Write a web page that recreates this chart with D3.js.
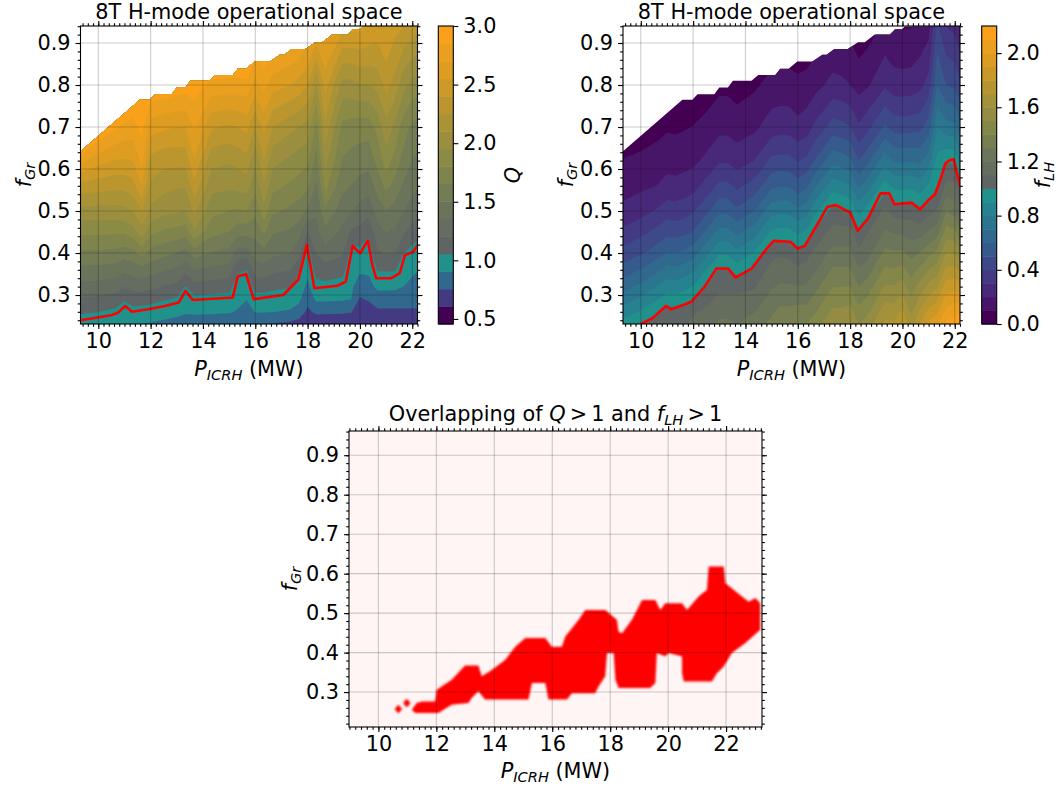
<!DOCTYPE html>
<html><head><meta charset="utf-8">
<script src="https://cdn.jsdelivr.net/npm/d3@7"></script>
<style>body{margin:0;background:#fff} text{font-family:"DejaVu Sans",sans-serif}</style>
</head><body>
<svg id="fig" width="1062" height="786"></svg>
<script>
// ---------------- data ----------------
const gridP = [9.32, 10.0, 10.67, 11.0, 11.33, 11.67, 12.0, 12.5, 13.0, 13.33, 13.67, 14.33, 15.0, 15.33, 15.67, 16.0, 16.33, 16.67, 17.33, 17.67, 18.0, 18.33, 18.67, 19.33, 19.67, 20.0, 20.33, 20.67, 21.0, 21.33, 21.67, 22.0, 22.2];
const gridF = [0.231, 0.26, 0.29, 0.32, 0.36, 0.40, 0.45, 0.50, 0.56, 0.62, 0.70, 0.80, 0.94];

// Q per P column (values at gridF rows)
const qCols = [
 [0.968,1.077,1.192,1.308,1.462,1.625,1.833,2.05,2.35,2.745,3.4,3.5,3.5],
 [0.948,1.056,1.177,1.298,1.46,1.625,1.833,2.045,2.318,2.608,3.04,3.5,3.5],
 [0.923,1.017,1.143,1.269,1.437,1.609,1.826,2.042,2.292,2.541,2.868,3.28,3.5],
 [0.912,0.968,1.072,1.207,1.387,1.575,1.825,2.06,2.30,2.535,2.81,3.16,3.5],
 [0.912,1.0,1.125,1.25,1.417,1.611,1.889,2.115,2.346,2.558,2.79,3.08,3.5],
 [0.905,0.99,1.126,1.266,1.453,1.714,2.042,2.25,2.55,2.75,2.9,3.03,3.5],
 [0.896,0.98,1.105,1.237,1.412,1.60,1.85,2.063,2.22,2.35,2.62,3.0,3.5],
 [0.876,0.96,1.069,1.198,1.371,1.545,1.773,2.0,2.15,2.3,2.58,2.98,3.5],
 [0.855,0.945,1.038,1.164,1.332,1.5,1.75,1.97,2.12,2.3,2.55,2.95,3.5],
 [0.841,0.921,0.968,1.05,1.25,1.45,1.722,1.95,2.12,2.3,2.55,2.93,3.5],
 [0.83,0.93,1.01,1.157,1.353,1.571,1.929,2.143,2.357,2.543,2.714,2.93,3.5],
 [0.826,0.925,1.0,1.136,1.318,1.5,1.7,1.85,2.0,2.15,2.42,2.8,3.4],
 [0.806,0.918,0.992,1.115,1.286,1.457,1.65,1.8,1.98,2.12,2.38,2.78,3.35],
 [0.779,0.896,0.937,0.972,1.083,1.292,1.556,1.78,2.0,2.15,2.4,2.78,3.35],
 [0.756,0.831,0.912,0.956,1.056,1.278,1.563,1.8,2.02,2.2,2.45,2.8,3.35],
 [0.775,0.918,0.997,1.112,1.267,1.422,1.55,1.7,1.85,1.98,2.25,2.65,3.1],
 [0.763,0.915,0.992,1.115,1.286,1.457,1.68,1.9,2.08,2.25,2.45,2.75,3.1],
 [0.75,0.91,0.985,1.09,1.239,1.388,1.52,1.68,1.85,2.0,2.25,2.62,3.05],
 [0.722,0.891,0.972,1.065,1.21,1.355,1.48,1.62,1.78,1.92,2.15,2.55,3.0],
 [0.691,0.853,0.935,0.977,1.093,1.256,1.42,1.58,1.74,1.88,2.1,2.5,2.95],
 [0.661,0.725,0.802,0.879,0.937,0.98,1.191,1.48,1.68,1.83,2.05,2.4,2.85],
 [0.626,0.788,0.935,1.01,1.108,1.206,1.3,1.38,1.48,1.58,1.75,2.1,2.75],
 [0.637,0.786,0.93,1.007,1.148,1.289,1.465,1.62,1.85,2.0,2.2,2.45,2.8],
 [0.636,0.779,0.923,0.989,1.106,1.227,1.32,1.42,1.55,1.64,1.76,2.05,2.6],
 [0.649,0.765,0.905,0.93,0.963,0.996,1.18,1.36,1.5,1.6,1.74,2.05,2.6],
 [0.62,0.652,0.741,0.831,0.931,1.004,1.16,1.3,1.45,1.58,1.72,2.1,2.6],
 [0.62,0.68,0.771,0.86,0.93,0.97,1.08,1.26,1.42,1.56,1.72,2.1,2.55],
 [0.639,0.728,0.834,0.937,1.063,1.188,1.3,1.42,1.56,1.7,1.85,2.15,2.5],
 [0.639,0.728,0.834,0.937,1.071,1.214,1.36,1.5,1.7,1.88,2.05,2.3,2.55],
 [0.639,0.728,0.834,0.935,1.065,1.21,1.33,1.45,1.6,1.75,1.92,2.2,2.45],
 [0.661,0.733,0.819,0.905,0.963,1.06,1.22,1.36,1.48,1.6,1.72,2.0,2.4],
 [0.688,0.739,0.802,0.864,0.936,0.997,1.15,1.28,1.4,1.5,1.62,1.9,2.35],
 [0.699,0.742,0.794,0.845,0.912,0.972,1.12,1.25,1.37,1.47,1.6,1.88,2.3]
];

// f_LH per P column (values at gridF rows)
const lhCols = [
 [0.936,0.847,0.754,0.662,0.54,0.438,0.323,0.227,0.159,0.105,0.012,0.0,0.0],
 [1.0,0.911,0.819,0.727,0.604,0.486,0.371,0.265,0.178,0.124,0.037,0.0,0.0],
 [1.08,0.991,0.899,0.807,0.684,0.561,0.431,0.316,0.204,0.148,0.068,0.0,0.0],
 [1.08,1.04,0.948,0.856,0.733,0.61,0.468,0.353,0.233,0.162,0.087,0.0,0.0],
 [1.08,1.031,0.939,0.847,0.724,0.601,0.461,0.346,0.227,0.159,0.083,0.0,0.0],
 [1.09,1.052,0.96,0.868,0.745,0.622,0.477,0.362,0.24,0.166,0.092,0.0,0.0],
 [1.12,1.089,0.997,0.905,0.782,0.659,0.506,0.39,0.262,0.177,0.104,0.0,0.0],
 [1.16,1.12,1.07,1.018,0.896,0.773,0.619,0.475,0.337,0.22,0.138,0.031,0.0],
 [1.22,1.173,1.123,1.074,1.009,0.886,0.733,0.579,0.422,0.287,0.171,0.075,0.0],
 [1.22,1.173,1.123,1.074,1.009,0.886,0.733,0.579,0.422,0.287,0.171,0.075,0.0],
 [1.2,1.16,1.12,1.074,0.951,0.828,0.675,0.521,0.378,0.253,0.154,0.052,0.0],
 [1.25,1.195,1.14,1.09,1.031,0.908,0.754,0.601,0.438,0.30,0.177,0.083,0.0],
 [1.33,1.28,1.235,1.19,1.13,1.071,0.917,0.764,0.579,0.422,0.251,0.135,0.0],
 [1.38,1.326,1.27,1.215,1.14,1.086,0.932,0.779,0.595,0.433,0.26,0.14,0.0],
 [1.38,1.325,1.268,1.211,1.136,1.083,0.929,0.776,0.592,0.431,0.258,0.139,0.0],
 [1.40,1.336,1.27,1.204,1.115,1.034,0.88,0.727,0.543,0.394,0.229,0.124,0.0],
 [1.40,1.338,1.273,1.21,1.13,1.071,0.917,0.764,0.579,0.422,0.251,0.135,0.0],
 [1.45,1.391,1.331,1.27,1.19,1.12,1.031,0.877,0.693,0.509,0.323,0.168,0.024],
 [1.58,1.519,1.458,1.396,1.314,1.232,1.13,1.037,0.853,0.668,0.443,0.231,0.086],
 [1.58,1.521,1.46,1.398,1.316,1.234,1.131,1.021,0.837,0.653,0.431,0.222,0.08],
 [1.60,1.536,1.469,1.403,1.314,1.226,1.141,0.988,0.804,0.619,0.406,0.202,0.067],
 [1.50,1.436,1.368,1.301,1.211,1.122,1.018,0.865,0.681,0.498,0.314,0.165,0.019],
 [1.55,1.484,1.415,1.346,1.255,1.163,1.095,0.942,0.757,0.573,0.371,0.187,0.049],
 [1.72,1.652,1.583,1.512,1.419,1.326,1.21,1.129,0.945,0.761,0.515,0.285,0.116],
 [1.72,1.65,1.578,1.506,1.409,1.313,1.192,1.061,0.877,0.693,0.461,0.245,0.095],
 [1.80,1.717,1.632,1.547,1.433,1.32,1.178,1.052,0.868,0.684,0.454,0.24,0.092],
 [1.65,1.585,1.516,1.448,1.358,1.267,1.153,1.061,0.877,0.693,0.461,0.245,0.095],
 [1.80,1.715,1.627,1.54,1.423,1.306,1.16,1.012,0.846,0.681,0.47,0.271,0.122],
 [1.92,1.826,1.728,1.631,1.50,1.37,1.207,1.068,0.911,0.754,0.546,0.339,0.158],
 [1.98,1.885,1.786,1.687,1.556,1.424,1.259,1.108,0.99,0.93,0.80,0.60,0.42],
 [2.12,2.032,1.94,1.849,1.726,1.604,1.451,1.298,1.124,0.986,0.74,0.50,0.30],
 [2.17,2.071,1.969,1.866,1.73,1.594,1.424,1.254,1.128,0.98,0.72,0.48,0.27],
 [2.22,2.08,1.96,1.84,1.68,1.52,1.32,1.147,1.0,0.853,0.64,0.42,0.20]
];

// upper edge of the computed (non-NaN) region
const edgeP = [9.32, 11.59, 11.97, 12.17, 12.81, 13.0, 13.33, 13.52, 14.23, 14.49, 15.14, 15.33, 15.65, 15.98, 16.56, 16.94, 17.1, 17.4, 17.91, 18.3, 18.56, 18.94, 19.52, 19.72, 19.98, 20.1, 22.2];
const edgeF = [0.642, 0.765, 0.765, 0.778, 0.778, 0.794, 0.794, 0.81, 0.81, 0.824, 0.824, 0.839, 0.839, 0.856, 0.856, 0.872, 0.872, 0.886, 0.886, 0.902, 0.902, 0.92, 0.92, 0.933, 0.933, 0.94, 0.94];

// Q = 1 contour
const qOneP = [9.32, 10.49, 10.75, 11.03, 11.29, 11.91, 12.55, 13.07, 13.33, 13.61, 15.14, 15.33, 15.65, 15.94, 17.07, 17.65, 17.97, 18.26, 19.14, 19.46, 19.65, 19.72, 20.01, 20.30, 20.49, 20.62, 21.2, 21.52, 21.72, 22.04, 22.2];
const qOneF = [0.240, 0.252, 0.258, 0.274, 0.260, 0.266, 0.274, 0.282, 0.310, 0.288, 0.294, 0.344, 0.350, 0.290, 0.300, 0.337, 0.419, 0.316, 0.322, 0.332, 0.395, 0.417, 0.399, 0.430, 0.368, 0.340, 0.340, 0.352, 0.395, 0.403, 0.419];

// f_LH = 1 contour
const lhOneP = [10.0, 10.45, 10.96, 11.16, 11.61, 11.93, 12.44, 12.89, 13.34, 13.62, 14.24, 14.82, 15.08, 15.72, 15.98, 16.27, 17.13, 17.46, 18.01, 18.29, 18.68, 19.16, 19.49, 19.70, 20.35, 20.67, 20.99, 21.25, 21.45, 21.64, 21.80, 21.96, 22.2];
const lhOneF = [0.231, 0.245, 0.274, 0.266, 0.276, 0.284, 0.320, 0.363, 0.363, 0.342, 0.363, 0.411, 0.429, 0.427, 0.411, 0.417, 0.510, 0.514, 0.496, 0.453, 0.482, 0.542, 0.542, 0.516, 0.520, 0.504, 0.526, 0.540, 0.575, 0.613, 0.621, 0.623, 0.560];

// overlap region (Q>1 and f_LH>1) outline
const blobP = [11.15, 11.32, 11.50, 11.96, 12.01, 12.53, 12.99, 13.45, 13.57, 13.91, 14.38, 14.72, 15.07, 15.76, 15.99, 16.33, 16.45, 16.91, 17.14, 17.83, 18.23, 18.29, 18.41, 18.75, 19.10, 19.56, 19.73, 19.90, 20.48, 20.65, 21.05, 21.34, 21.40, 21.92, 21.98, 22.26, 22.78, 23.01, 23.18, 23.18, 22.67, 22.20, 21.92, 21.69, 21.51, 20.54, 20.48, 20.48, 20.02, 19.90, 19.61, 19.56, 19.38, 18.29, 18.18, 18.12, 17.89, 17.83, 17.60, 17.48, 16.68, 16.51, 15.87, 15.76, 15.30, 15.18, 13.68, 13.45, 13.22, 13.11, 12.53, 12.07, 11.27];
const blobF = [0.255, 0.272, 0.276, 0.276, 0.306, 0.331, 0.367, 0.367, 0.340, 0.356, 0.382, 0.415, 0.437, 0.437, 0.415, 0.415, 0.441, 0.483, 0.508, 0.508, 0.483, 0.453, 0.449, 0.483, 0.533, 0.533, 0.508, 0.525, 0.525, 0.508, 0.542, 0.559, 0.618, 0.618, 0.576, 0.559, 0.529, 0.538, 0.525, 0.458, 0.424, 0.399, 0.365, 0.348, 0.327, 0.327, 0.348, 0.390, 0.399, 0.390, 0.399, 0.323, 0.310, 0.310, 0.331, 0.399, 0.399, 0.340, 0.314, 0.297, 0.297, 0.281, 0.281, 0.323, 0.323, 0.281, 0.281, 0.302, 0.285, 0.272, 0.268, 0.247, 0.247];
const blobDotP = [10.69, 10.98];
const blobDotF = [0.257, 0.272];

// contour levels & ticks
const qLevels = [0.457, 0.607, 0.756, 0.906, 1.055, 1.205, 1.354, 1.504, 1.653, 1.803, 1.952, 2.102, 2.251, 2.401, 2.551, 2.700, 2.850, 3.0];
const lhLevels = [0, 0.1, 0.2, 0.3, 0.4, 0.5, 0.6, 0.7, 0.8, 0.9, 1.0, 1.1, 1.2, 1.3, 1.4, 1.5, 1.6, 1.7, 1.8, 1.9, 2.0, 2.1, 2.2];
const qTicks = [0.5, 1.0, 1.5, 2.0, 2.5, 3.0];
const lhTicks = [0.0, 0.4, 0.8, 1.2, 1.6, 2.0];
const xTicks = [10, 12, 14, 16, 18, 20, 22];
const yTicks = [0.3, 0.4, 0.5, 0.6, 0.7, 0.8, 0.9];

// ---------------- drawing ----------------
const upperStops = ['#5f6564', '#6c7759', '#898a47', '#ad9336', '#d89c22', '#f9a11b'];
const svg = d3.select('#fig');
svg.append('rect').attr('width', 1062).attr('height', 786).attr('fill', '#fff');
const defs = svg.append('defs');
defs.append('filter').attr('id', 'soft').attr('x', '-5%').attr('y', '-5%').attr('width', '110%').attr('height', '110%')
  .append('feGaussianBlur').attr('stdDeviation', 0.9);

function bandColors(levels) {
  const n = levels.length - 1;
  const mids = d3.range(n).map(i => (levels[i] + levels[i + 1]) / 2);
  const low = mids.filter(m => m < 1).length;
  const up = d3.piecewise(d3.interpolateRgb, upperStops);
  return mids.map((m, i) => i < low ? d3.interpolateViridis(0.5 * i / (low - 1)) : up((i - low) / (n - low - 1)));
}
function toGrid(arr, c) {
  const t = Math.max(0, Math.min(arr.length - 1, c - 0.5));
  const i = Math.min(arr.length - 2, Math.floor(t));
  return arr[i] + (arr[i + 1] - arr[i]) * (t - i);
}
const FS = 20.8, SUB = 14.6;
function styleAxis(g) {
  g.select('.domain').remove();
  g.selectAll('text').attr('font-size', FS).attr('font-family', 'DejaVu Sans').attr('fill', '#000');
  g.selectAll('line').attr('stroke', '#000').attr('stroke-width', 1.1);
}
const fmt1 = d3.format('.1f');
function frame(xs, ys, L, R, T, B) {
  const xMinor = d3.range(Math.ceil(xs.domain()[0] * 5), Math.floor(xs.domain()[1] * 5) + 1).map(k => k / 5);
  const yMinor = d3.range(Math.ceil(ys.domain()[0] * 50), Math.floor(ys.domain()[1] * 50) + 1).map(k => k / 50);
  const gg = svg.append('g').attr('stroke', '#000').attr('stroke-opacity', 0.2).attr('stroke-width', 1.1);
  xTicks.forEach(v => gg.append('line').attr('x1', xs(v)).attr('x2', xs(v)).attr('y1', T).attr('y2', B));
  yTicks.forEach(v => gg.append('line').attr('y1', ys(v)).attr('y2', ys(v)).attr('x1', L).attr('x2', R));
  svg.append('g').attr('transform', `translate(0,${B})`).call(d3.axisBottom(xs).tickValues(xTicks).tickSize(5).tickPadding(4).tickFormat(d3.format('d'))).call(styleAxis);
  svg.append('g').attr('transform', `translate(0,${B})`).call(d3.axisBottom(xs).tickValues(xMinor).tickSize(2.8).tickFormat('')).call(styleAxis);
  svg.append('g').attr('transform', `translate(0,${T})`).call(d3.axisTop(xs).tickValues(xTicks).tickSize(5).tickFormat('')).call(styleAxis);
  svg.append('g').attr('transform', `translate(0,${T})`).call(d3.axisTop(xs).tickValues(xMinor).tickSize(2.8).tickFormat('')).call(styleAxis);
  svg.append('g').attr('transform', `translate(${L},0)`).call(d3.axisLeft(ys).tickValues(yTicks).tickSize(5).tickPadding(5).tickFormat(fmt1)).call(styleAxis);
  svg.append('g').attr('transform', `translate(${L},0)`).call(d3.axisLeft(ys).tickValues(yMinor).tickSize(2.8).tickFormat('')).call(styleAxis);
  svg.append('g').attr('transform', `translate(${R},0)`).call(d3.axisRight(ys).tickValues(yTicks).tickSize(5).tickFormat('')).call(styleAxis);
  svg.append('g').attr('transform', `translate(${R},0)`).call(d3.axisRight(ys).tickValues(yMinor).tickSize(2.8).tickFormat('')).call(styleAxis);
  svg.append('rect').attr('x', L).attr('y', T).attr('width', R - L).attr('height', B - T).attr('fill', 'none').attr('stroke', '#000').attr('stroke-width', 1.1);
}
function xLabel(cx, y) {
  const t = svg.append('text').attr('x', cx).attr('y', y).attr('text-anchor', 'middle').attr('font-size', FS);
  t.append('tspan').attr('font-style', 'italic').text('P');
  t.append('tspan').attr('font-style', 'italic').attr('font-size', SUB).attr('dy', 4).text('ICRH');
  t.append('tspan').attr('dy', -4).text(' (MW)');
}
function rotLabel(x, y, main, sub) {
  const t = svg.append('text').attr('transform', `translate(${x},${y}) rotate(-90)`).attr('text-anchor', 'middle').attr('font-size', FS);
  t.append('tspan').attr('font-style', 'italic').text(main);
  if (sub) t.append('tspan').attr('font-style', 'italic').attr('font-size', SUB).attr('dy', 4).text(sub);
}
function title(cx, y, txt) {
  svg.append('text').attr('x', cx).attr('y', y).attr('text-anchor', 'middle').attr('font-size', FS).text(txt);
}

const pDomain = [9.32, 22.2], fDomain = [0.231, 0.9405];
function contourPanel(cfg) {
  const { L, R, T, B, cols, levels, oneP, oneF, cbL, cbTicks, cbName, cbSub, cbOff, id } = cfg;
  const xs = d3.scaleLinear().domain(pDomain).range([L, R]);
  const ys = d3.scaleLinear().domain(fDomain).range([B, T]);
  const nx = gridP.length, ny = gridF.length;
  const values = [];
  for (let j = 0; j < ny; j++) for (let i = 0; i < nx; i++) values.push(cols[i][j]);
  const proj = d3.geoTransform({ point(px, py) { this.stream.point(xs(toGrid(gridP, px)), ys(toGrid(gridF, py))); } });
  const path = d3.geoPath(proj);
  const polys = d3.contours().size([nx, ny]).thresholds(levels.slice(0, -1))(values);
  const colors = bandColors(levels);
  const pts = [[edgeP[0], fDomain[0]]].concat(edgeP.map((p, i) => [p, edgeF[i]])).concat([[edgeP[edgeP.length - 1], fDomain[0]]]);
  defs.append('clipPath').attr('id', id).append('path').attr('d', d3.line().x(d => xs(d[0])).y(d => ys(d[1]))(pts) + 'Z');
  defs.append('clipPath').attr('id', id + 'r').append('rect').attr('x', L).attr('y', T).attr('width', R - L).attr('height', B - T);
  const g = svg.append('g').attr('clip-path', `url(#${id})`);
  polys.forEach((c, k) => g.append('path').attr('d', path(c)).attr('fill', colors[k]));
  svg.append('g').attr('clip-path', `url(#${id}r)`).append('path')
    .attr('d', d3.line().x(d => xs(d[0])).y(d => ys(d[1]))(oneP.map((p, i) => [p, oneF[i]])))
    .attr('fill', 'none').attr('stroke', '#ff0000').attr('stroke-width', 2.6).attr('stroke-linejoin', 'round');
  frame(xs, ys, L, R, T, B);
  const cbW = 15;
  const cs = d3.scaleLinear().domain([levels[0], levels[levels.length - 1]]).range([B, T]);
  const cg = svg.append('g');
  d3.range(levels.length - 1).forEach(k => cg.append('rect').attr('x', cbL).attr('width', cbW)
    .attr('y', cs(levels[k + 1])).attr('height', cs(levels[k]) - cs(levels[k + 1]) + 0.5).attr('fill', colors[k]));
  svg.append('rect').attr('x', cbL).attr('y', T).attr('width', cbW).attr('height', B - T).attr('fill', 'none').attr('stroke', '#000').attr('stroke-width', 1.1);
  svg.append('g').attr('transform', `translate(${cbL + cbW},0)`).call(d3.axisRight(cs).tickValues(cbTicks).tickSize(5).tickPadding(5).tickFormat(fmt1)).call(styleAxis);
  rotLabel(cbL + cbOff, (T + B) / 2, cbName, cbSub);
  title((L + R) / 2, 18.5, '8T H-mode operational space');
  xLabel((L + R) / 2, 376);
  rotLabel(L - 50, (T + B) / 2, 'f', 'Gr');
}

contourPanel({ L: 80.5, R: 417.5, T: 26, B: 324, cols: qCols, levels: qLevels, oneP: qOneP, oneF: qOneF,
  cbL: 438.3, cbTicks: qTicks, cbName: 'Q', cbSub: null, cbOff: 82, id: 'c1' });
contourPanel({ L: 623, R: 960, T: 26, B: 324, cols: lhCols, levels: lhLevels, oneP: lhOneP, oneF: lhOneF,
  cbL: 981.7, cbTicks: lhTicks, cbName: 'f', cbSub: 'LH', cbOff: 68, id: 'c2' });

// ---- overlap panel ----
(function () {
  const L = 349, R = 762, T = 431, B = 727;
  const xs = d3.scaleLinear().domain([8.985, 23.24]).range([L, R]);
  const ys = d3.scaleLinear().domain([0.2115, 0.9614]).range([B, T]);
  svg.append('rect').attr('x', L).attr('y', T).attr('width', R - L).attr('height', B - T).attr('fill', '#fff5f5');
  defs.append('clipPath').attr('id', 'c3').append('rect').attr('x', L).attr('y', T).attr('width', R - L).attr('height', B - T);
  const g = svg.append('g').attr('clip-path', 'url(#c3)').append('g').attr('filter', 'url(#soft)');
  g.append('path').attr('d', d3.line().x(d => xs(d[0])).y(d => ys(d[1])).curve(d3.curveLinearClosed)(blobP.map((p, i) => [p, blobF[i]])))
    .attr('fill', '#ff0000');
  blobDotP.forEach((p, i) => {
    const f = blobDotF[i];
    const d = [[p - 0.13, f], [p, f + 0.011], [p + 0.13, f], [p, f - 0.011]];
    g.append('path').attr('d', d3.line().x(q => xs(q[0])).y(q => ys(q[1])).curve(d3.curveLinearClosed)(d)).attr('fill', '#ff0000');
  });
  frame(xs, ys, L, R, T, B);
  const t = svg.append('text').attr('x', (L + R) / 2).attr('y', 421).attr('text-anchor', 'middle').attr('font-size', FS);
  t.append('tspan').text('Overlapping of ');
  t.append('tspan').attr('font-style', 'italic').text('Q');
  t.append('tspan').text('\u2009>\u20091 and ');
  t.append('tspan').attr('font-style', 'italic').text('f');
  t.append('tspan').attr('font-style', 'italic').attr('font-size', SUB).attr('dy', 4).text('LH');
  t.append('tspan').attr('dy', -4).text('\u2009>\u20091');
  xLabel((L + R) / 2, 778);
  rotLabel(L - 52, (T + B) / 2, 'f', 'Gr');
})();
</script>
</body></html>
